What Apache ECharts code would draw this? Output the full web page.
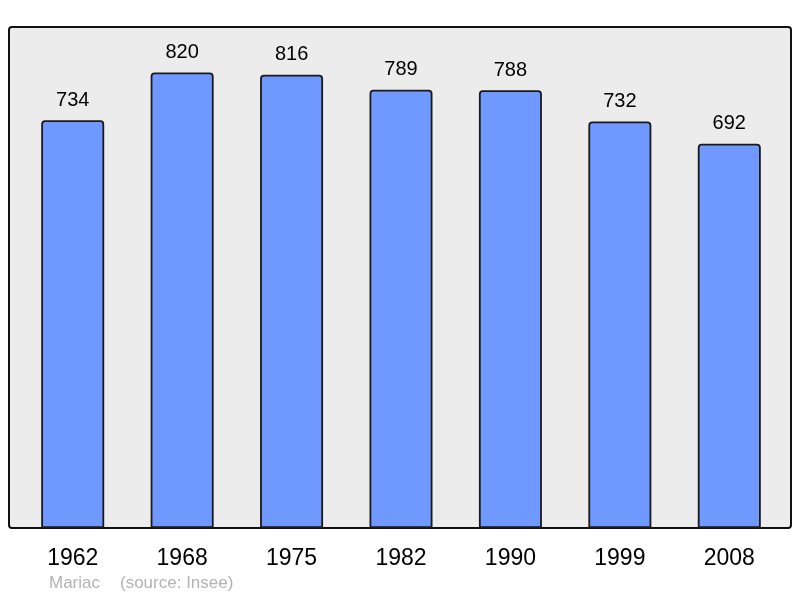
<!DOCTYPE html>
<html>
<head>
<meta charset="utf-8">
<script src="https://cdn.jsdelivr.net/npm/echarts@6/dist/echarts.min.js"></script>
<style>
  html, body { margin: 0; padding: 0; background: #fff; }
  #chart { width: 800px; height: 598px; }
</style>
</head>
<body>
<div id="chart"></div>
<script>
const years = ['1962', '1968', '1975', '1982', '1990', '1999', '2008'];
const population = [734, 820, 816, 789, 788, 732, 692];
const town = 'Mariac';
const source = '(source: Insee)';

const chart = echarts.init(document.getElementById('chart'), null, { renderer: 'canvas' });

chart.setOption({
  animation: false,
  textStyle: { fontFamily: 'Liberation Sans, Arial, sans-serif' },
  graphic: [
    {
      type: 'rect',
      z: -10,
      shape: { x: 9, y: 27, width: 782, height: 501, r: 3 },
      style: { fill: '#ececec', stroke: '#111', lineWidth: 2 }
    },
    {
      type: 'text',
      left: 49, top: 575,
      style: { text: town, fill: '#b3b3b3', fontSize: 17, fontFamily: 'Liberation Sans' }
    },
    {
      type: 'text',
      left: 120, top: 575,
      style: { text: source, fill: '#b3b3b3', fontSize: 17, fontFamily: 'Liberation Sans' }
    }
  ],
  grid: { left: 18, right: 16, top: 27, bottom: 70 },
  xAxis: {
    type: 'category',
    data: years,
    axisLine: { show: false },
    axisTick: { show: false },
    axisLabel: { color: '#000', fontSize: 23, margin: 19 }
  },
  yAxis: {
    type: 'value',
    min: 0,
    max: 902,
    show: false,
    splitLine: { show: false }
  },
  series: [{
    type: 'bar',
    data: population,
    barWidth: 63,
    itemStyle: {
      color: '#7099ff',
      borderColor: '#1a1a1a',
      borderWidth: 1.8,
      borderRadius: [3, 3, 0, 0]
    },
    label: {
      show: true,
      position: 'top',
      distance: 10,
      color: '#000',
      fontSize: 20
    }
  }]
});
</script>
</body>
</html>
